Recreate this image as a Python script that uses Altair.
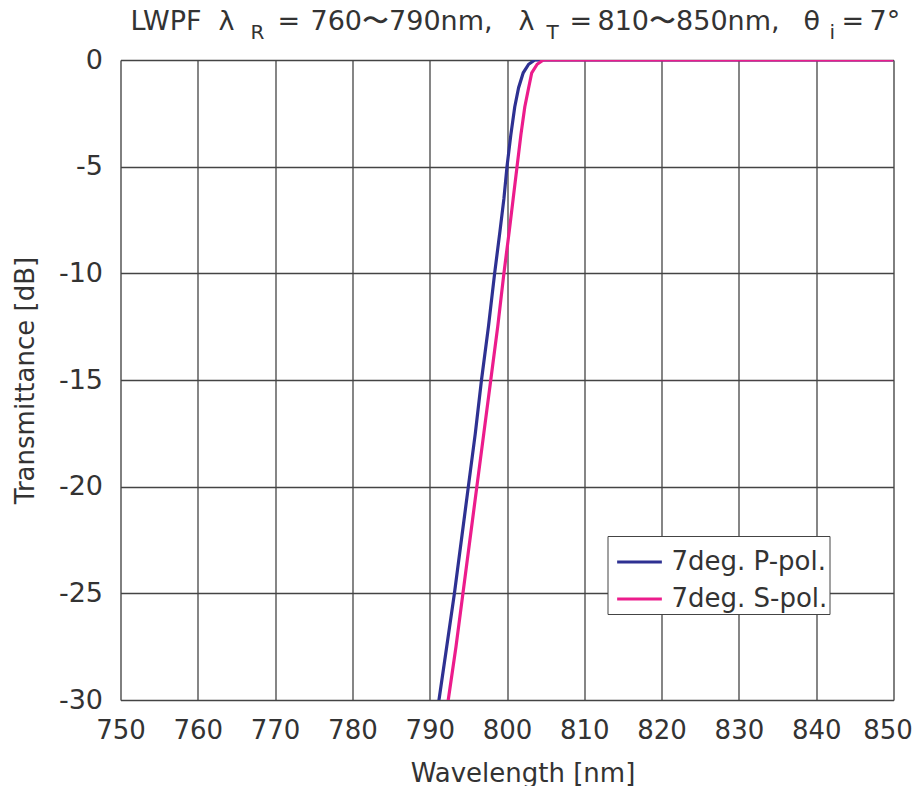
import altair as alt
import pandas as pd

# P-pol curve (wavelength nm, transmittance dB)
p_wl = [791.0, 791.2, 792.2, 793.2, 794.1, 795.0, 795.9, 796.7, 797.6, 798.4, 799.1, 799.6, 800.0, 800.5, 801.0, 801.5, 802.1, 802.8, 803.6, 850.0]
p_db = [-31.0, -30.0, -27.5, -25.0, -22.5, -20.0, -17.5, -15.0, -12.5, -10.0, -8.0, -6.5, -5.0, -3.5, -2.2, -1.3, -0.6, -0.2, 0.0, 0.0]
# S-pol curve
s_wl = [792.2, 792.4, 793.4, 794.3, 795.2, 796.1, 797.0, 797.9, 798.8, 799.6, 800.3, 800.8, 801.3, 801.8, 802.3, 802.8, 803.2, 803.9, 804.7, 850.0]
s_db = [-31.0, -30.0, -27.5, -25.0, -22.5, -20.0, -17.5, -15.0, -12.5, -10.0, -8.0, -6.5, -5.0, -3.5, -2.2, -1.3, -0.6, -0.2, 0.0, 0.0]

series_names = ["7deg. P-pol.", "7deg. S-pol."]
series_colors = ["#2E3192", "#EC1C8C"]
x_ticks = list(range(750, 851, 10))
y_ticks = list(range(-30, 1, 5))

FONT = "DejaVu Sans"
TXT = "#333333"

df = pd.concat([
    pd.DataFrame({"wl": p_wl, "db": p_db, "pol": series_names[0], "o": range(len(p_wl))}),
    pd.DataFrame({"wl": s_wl, "db": s_db, "pol": series_names[1], "o": range(len(s_wl))}),
])

W, H = 773, 640

lines = alt.Chart(df).mark_line(strokeWidth=3.2, clip=True).encode(
    x=alt.X("wl:Q", scale=alt.Scale(domain=[750, 850], nice=False, zero=False),
            axis=alt.Axis(values=x_ticks, title="Wavelength [nm]", grid=True, domain=False,
                          ticks=False, labelPadding=17, labelFontSize=26, titleFontSize=26,
                          titlePadding=17, labelFont=FONT, titleFont=FONT,
                          labelOverlap=False, labelFlush=False, labelBound=False,
                          labelOffset={"condition": {"test": "datum.value == 850", "value": -6}, "value": 0},
                          titleX=402, titleAlign="center",
                          labelColor=TXT, titleColor=TXT, titleFontWeight="normal",
                          gridColor="#444444", gridWidth=1.3, gridOpacity=1)),
    y=alt.Y("db:Q", scale=alt.Scale(domain=[-30, 0], nice=False, zero=False),
            axis=alt.Axis(values=y_ticks, title="Transmittance [dB]", grid=True, domain=False,
                          ticks=False, labelPadding=18, labelFontSize=27, titleFontSize=26,
                          titlePadding=20, labelFont=FONT, titleFont=FONT,
                          labelOverlap=False, labelFlush=False,
                          labelExpr="toString(datum.value)",
                          labelColor=TXT, titleColor=TXT, titleFontWeight="normal",
                          gridColor="#444444", gridWidth=1.3, gridOpacity=1)),
    color=alt.Color("pol:N", scale=alt.Scale(domain=series_names, range=series_colors),
                    legend=alt.Legend(title=None, orient="none", legendX=487, legendY=476,
                                      symbolType="stroke", symbolStrokeWidth=3.2, symbolSize=2000,
                                      labelFontSize=26, labelFont=FONT, labelColor=TXT,
                                      fillColor="white", strokeColor="#444444", padding=2,
                                      rowPadding=0, labelOffset=8, symbolOffset=6)),
    order="o:Q",
)

# title segments: (text, x, y, size)
title_parts = [
    ("LWPF", 10, -30, 27), ("λ", 98, -30, 27), ("R", 130, -21, 20),
    ("=", 157, -30, 27), ("760〜790nm,", 190, -30, 27),
    ("λ", 398, -30, 27), ("T", 426, -21, 20), ("=", 449, -30, 27),
    ("810〜850nm,", 477, -30, 27), ("θ", 683, -30, 27), ("i", 709, -21, 20),
    ("=", 721, -30, 27), ("7°", 749, -30, 27),
]
one = pd.DataFrame({"k": [0]})
layers = [lines]
for t, x, y, s in title_parts:
    layers.append(alt.Chart(one).mark_text(align="left", baseline="alphabetic", fontSize=s,
                                           font=FONT, color=TXT).encode(
        x=alt.value(x), y=alt.value(y), text=alt.value(t)))

chart = alt.layer(*layers).properties(
    width=W, height=H,
    autosize=alt.AutoSizeParams(type="none"),
    padding={"left": 112.5, "top": 52, "right": 20.5, "bottom": 86},
).configure_view(stroke="#222222", strokeWidth=3).configure(background="white")

chart.save("out.html", embed_options={"renderer": "svg", "actions": False})
